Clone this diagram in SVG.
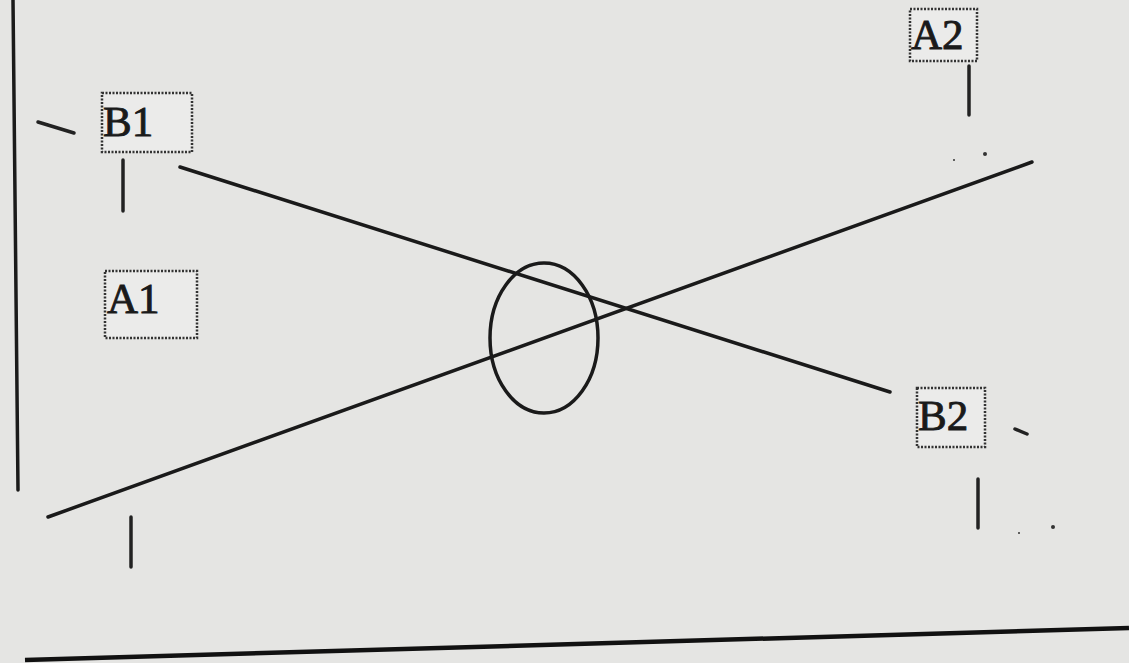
<svg xmlns="http://www.w3.org/2000/svg" width="1129" height="663" viewBox="0 0 1129 663">
<style>
.ln{stroke:#1a1a1a;stroke-width:3.5;fill:none;stroke-linecap:round}
.tk{stroke:#222;stroke-width:3.5;fill:none;stroke-linecap:round}
.box{fill:#ebebea;stroke:#333;stroke-width:2.5;stroke-dasharray:2 1.5}
.lbl{font-family:"Liberation Serif","Times New Roman",serif;font-size:43px;fill:#1a1a1a;stroke:#1a1a1a;stroke-width:0.9}
.dot{fill:#333}
</style>
<rect width="1129" height="663" fill="#e5e5e3"/>
<g id="connectors">
<line class="ln" x1="13" y1="0" x2="18" y2="490"/>
<line class="ln" x1="180" y1="167" x2="890" y2="392"/>
<line class="ln" x1="48" y1="517" x2="1032" y2="162"/>
<path d="M25 660 L1129 628" stroke="#111" stroke-width="4.5" fill="none"/>
</g>
<g id="ellipse"><ellipse cx="544" cy="338" rx="54" ry="75" class="ln"/></g>
<g id="B1">
<rect class="box" x="102" y="93" width="90" height="59"/>
<text class="lbl" x="103" y="136">B1</text>
<line class="tk" x1="38" y1="122" x2="74" y2="133"/>
<line class="tk" x1="123" y1="160" x2="123" y2="211"/>
</g>
<g id="A2">
<rect class="box" x="910" y="9" width="67" height="52"/>
<text class="lbl" x="911" y="49">A2</text>
<line class="tk" x1="969" y1="66" x2="969" y2="115"/>
<circle class="dot" cx="985" cy="154" r="2"/>
<circle class="dot" cx="954" cy="160" r="1"/>
</g>
<g id="A1">
<rect class="box" x="105" y="271" width="92" height="67"/>
<text class="lbl" x="107" y="313">A1</text>
<line class="tk" x1="131" y1="517" x2="131" y2="567"/>
</g>
<g id="B2">
<rect class="box" x="917" y="388" width="68" height="59"/>
<text class="lbl" x="918" y="430">B2</text>
<line class="tk" x1="1015" y1="429" x2="1027" y2="434"/>
<line class="tk" x1="978" y1="479" x2="978" y2="528"/>
<circle class="dot" cx="1053" cy="527" r="2"/>
<circle class="dot" cx="1019" cy="533" r="1"/>
</g>
</svg>
